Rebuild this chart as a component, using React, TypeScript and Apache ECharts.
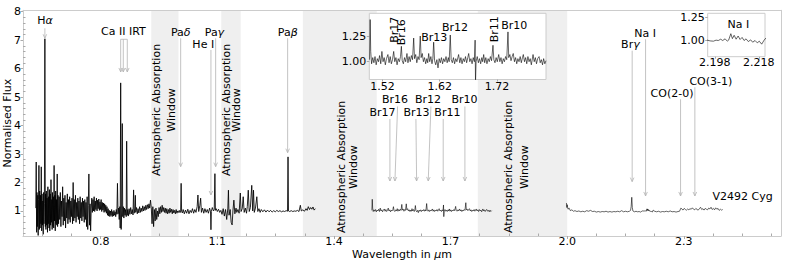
import React, { useEffect, useRef } from "react";
import * as echarts from "echarts";

const FONT = "DejaVu Sans";

// ---------------- data ----------------
// optical + J band segment
const spectrumOptJ: [number, number][] = [
  [0.633,1.10],[0.634,2.72],[0.635,0.25],[0.636,1.65],[0.637,0.45],[0.638,1.55],[0.639,0.14],[0.640,1.40],
  [0.641,2.60],[0.642,0.35],[0.643,1.70],[0.644,0.40],[0.645,1.55],[0.646,0.55],[0.647,2.55],[0.648,0.30],
  [0.649,1.60],[0.650,0.50],[0.651,1.35],[0.652,0.18],[0.653,1.65],[0.654,0.55],[0.655,1.25],[0.6563,7.05],
  [0.6575,0.45],[0.658,1.60],[0.659,0.35],[0.660,1.70],[0.661,0.50],[0.662,1.45],[0.663,0.25],[0.664,1.85],
  [0.665,0.55],[0.666,1.50],[0.667,0.40],[0.668,1.75],[0.669,0.30],[0.670,1.60],[0.671,0.50],[0.672,2.10],
  [0.673,0.60],[0.674,1.40],[0.675,0.35],[0.676,1.65],[0.677,0.45],[0.678,1.50],[0.679,0.40],[0.680,2.60],
  [0.681,0.65],[0.682,1.55],[0.683,0.30],[0.684,1.70],[0.685,0.55],[0.686,1.40],[0.687,0.50],[0.688,2.30],
  [0.689,0.45],[0.690,1.55],
  [0.6915,0.55],[0.693,1.50],[0.6945,0.70],[0.696,1.65],[0.6975,0.45],[0.699,1.35],[0.7005,0.80],[0.702,1.85],
  [0.7035,0.50],[0.705,1.45],[0.7065,0.65],[0.708,1.55],[0.7095,0.40],[0.711,1.30],[0.7125,0.75],[0.714,1.60],
  [0.7155,0.55],[0.717,1.40],[0.7185,0.70],[0.720,1.50],[0.7215,0.60],[0.723,1.35],[0.7245,0.80],[0.726,1.45],
  [0.7275,0.55],[0.729,2.00],[0.7305,0.65],[0.732,1.40],[0.7335,0.75],[0.735,1.55],[0.7365,0.60],[0.738,1.30],
  [0.7395,0.80],[0.741,1.45],[0.7425,0.70],[0.744,1.35],[0.7455,0.55],[0.747,1.50],[0.7485,0.75],[0.750,1.30],
  [0.7515,0.65],[0.753,1.45],[0.7545,0.80],[0.756,1.35],[0.7575,0.60],[0.759,1.40],[0.7605,0.70],[0.762,1.30],
  [0.7635,0.45],[0.765,1.50],[0.7665,0.35],[0.768,1.20],[0.7695,2.30],[0.771,0.50],[0.7725,1.25],[0.774,0.30],
  [0.7755,1.10],
  [0.777,1.45],[0.7785,0.95],[0.780,1.40],[0.7815,1.00],[0.783,1.50],[0.7845,0.98],[0.786,1.35],[0.7875,1.05],
  [0.789,1.45],[0.7905,1.00],[0.792,1.38],[0.7935,1.08],[0.795,1.42],[0.7965,1.02],[0.798,1.32],[0.7995,1.05],
  [0.801,1.40],[0.8025,0.98],[0.804,1.30],[0.8055,1.03],[0.807,1.28],[0.8085,0.95],[0.810,1.25],[0.8115,0.98],
  [0.813,1.20],[0.8145,0.92],[0.816,1.15],
  [0.8175,0.85],[0.819,1.08],[0.8205,0.82],[0.822,1.02],[0.8235,0.80],[0.825,1.00],[0.8265,0.84],[0.828,1.05],
  [0.8295,0.80],[0.831,0.98],[0.8325,0.82],[0.834,1.02],[0.8355,0.85],[0.837,0.97],[0.8385,0.80],[0.840,1.05],
  [0.8415,0.88],[0.843,1.97],[0.8445,0.90],[0.846,1.10],[0.8475,0.70],[0.849,1.15],[0.850,0.40],[0.8513,5.50],
  [0.8525,0.35],[0.854,1.00],[0.8554,4.07],[0.8565,0.80],[0.858,1.15],[0.8595,0.75],[0.861,1.10],[0.8625,0.85],
  [0.864,1.05],[0.8655,0.80],[0.8667,3.45],[0.868,0.85],[0.8695,1.05],[0.871,0.82],
  [0.873,1.08],[0.875,0.88],[0.877,1.12],[0.879,0.90],[0.881,1.05],[0.883,0.86],[0.8845,1.74],[0.886,0.92],
  [0.888,1.10],[0.889,1.55],[0.890,0.95],[0.892,1.12],[0.894,0.90],[0.896,1.08],[0.898,0.93],[0.900,1.15],
  [0.902,0.95],[0.904,1.10],[0.906,0.98],[0.908,1.18],[0.910,1.00],[0.912,1.15],[0.914,1.02],[0.916,1.20],
  [0.918,1.05],[0.920,1.22],[0.922,1.08],[0.924,1.25],[0.926,1.10],[0.928,1.38],[0.930,1.12],
  [0.932,0.55],[0.934,1.15],[0.936,0.45],[0.938,1.05],[0.940,0.65],[0.942,1.10],[0.944,0.70],[0.946,1.00],
  [0.948,0.80],[0.950,1.12],[0.952,0.90],[0.954,1.15],[0.956,0.95],[0.958,1.20],[0.960,0.98],[0.962,1.12],
  [0.964,0.95],[0.966,1.10],[0.968,0.92],[0.970,1.08],[0.972,0.90],[0.974,1.05],[0.976,0.92],[0.978,1.10],
  [0.980,0.95],[0.982,1.06],[0.984,0.90],[0.986,1.05],[0.988,0.93],[0.990,1.02],[0.992,0.90],[0.994,1.05],
  [0.996,0.92],[0.998,1.00],[1.000,0.95],[1.002,1.02],[1.004,0.94],[1.0055,1.00],[1.0068,1.97],[1.008,0.98],
  [1.010,0.93],
  [1.012,1.05],[1.015,0.90],[1.018,1.03],[1.021,0.92],[1.024,1.06],[1.027,0.90],[1.030,1.02],[1.033,0.94],
  [1.036,1.08],[1.039,0.92],[1.042,1.05],[1.045,0.95],[1.048,1.15],[1.050,1.56],[1.052,0.98],[1.055,1.20],
  [1.057,1.45],[1.059,0.95],[1.062,1.10],[1.065,0.92],[1.068,1.08],[1.071,0.95],[1.074,1.05],[1.077,0.92],
  [1.080,1.10],[1.0825,0.97],[1.0835,0.34],[1.0845,0.98],[1.087,1.12],[1.090,1.00],[1.092,1.05],[1.0937,2.31],
  [1.095,1.02],[1.097,1.08],
  [1.100,0.98],[1.103,1.06],[1.106,0.95],[1.109,1.02],[1.112,0.88],[1.115,1.08],[1.118,0.82],[1.121,1.05],
  [1.124,0.70],[1.127,1.10],[1.1285,1.73],[1.130,0.85],[1.133,1.05],[1.1355,0.60],[1.138,0.51],[1.140,1.00],
  [1.1425,1.38],[1.145,0.90],[1.148,1.10],[1.150,0.95],[1.153,1.05],[1.156,0.92],[1.159,1.63],[1.161,0.98],
  [1.164,1.08],[1.1665,1.50],[1.169,0.95],[1.172,1.10],[1.175,0.92],[1.177,1.15],[1.1795,1.73],[1.182,0.98],
  [1.185,1.12],[1.1885,1.90],[1.191,1.00],[1.193,1.73],[1.195,0.95],[1.198,1.10],[1.2015,1.50],[1.204,0.98],
  [1.207,1.08],[1.210,0.95],
  [1.213,1.05],[1.217,0.97],[1.221,1.04],[1.225,0.96],[1.229,1.03],[1.233,0.97],[1.237,1.02],[1.241,0.96],
  [1.245,1.01],[1.249,0.97],[1.253,1.02],[1.257,0.98],[1.261,1.01],[1.265,0.97],[1.269,1.00],[1.273,0.98],
  [1.277,1.01],[1.2805,0.99],[1.2818,2.90],[1.283,1.00],[1.286,0.98],[1.290,1.01],[1.294,0.98],[1.298,1.00],
  [1.302,0.99],[1.306,1.02],[1.310,0.98],[1.3135,1.20],[1.316,1.00],[1.320,1.04],[1.324,0.99],[1.328,1.08],
  [1.331,1.02],[1.334,1.15],[1.337,1.05],[1.340,1.12],[1.343,1.06],[1.346,1.14],[1.349,1.03],[1.352,1.08],
];

// H band segment (also shown in the first inset)
const spectrumH: [number, number][] = [
  [1.4975,1.02],[1.4985,1.41],[1.4995,1.10],[1.501,0.98],[1.503,1.04],[1.505,0.99],[1.507,1.05],[1.509,0.97],
  [1.511,1.03],[1.513,1.00],[1.515,1.06],[1.517,0.98],[1.519,1.10],[1.521,1.00],[1.523,1.04],[1.525,0.97],
  [1.527,1.03],[1.5295,1.07],[1.5315,0.99],[1.5335,1.05],[1.5355,0.98],[1.5375,1.02],[1.5396,1.10],[1.5415,1.00],
  [1.5435,1.04],[1.5455,0.97],[1.5475,1.03],[1.5495,1.00],[1.5515,1.05],[1.553,1.15],[1.5545,1.01],[1.5565,0.98],
  [1.5585,1.04],[1.5605,1.00],[1.5628,1.08],[1.5645,0.99],[1.5665,1.05],[1.5685,1.00],[1.5705,1.06],[1.5725,1.02],
  [1.5745,1.23],[1.576,1.03],[1.578,1.07],[1.580,0.99],[1.582,1.05],[1.584,1.02],[1.586,1.25],[1.5875,1.04],
  [1.5895,1.08],[1.5915,1.00],[1.5935,1.04],[1.5955,0.98],[1.5975,1.03],[1.599,0.99],[1.6007,1.08],[1.6025,1.00],
  [1.6045,1.05],[1.6065,0.98],[1.608,1.03],[1.6094,1.19],[1.611,1.01],[1.613,0.97],[1.615,1.02],[1.617,0.94],
  [1.619,1.03],[1.621,0.99],[1.623,1.04],[1.625,0.98],[1.627,1.03],[1.629,1.00],[1.631,1.05],[1.633,0.99],
  [1.635,1.04],[1.6365,1.00],[1.6384,1.26],[1.640,1.02],[1.642,0.99],[1.644,1.04],[1.646,0.98],[1.648,1.03],
  [1.650,1.00],[1.653,1.07],[1.655,0.99],[1.657,1.04],[1.659,0.98],[1.661,1.03],[1.663,1.00],[1.665,1.05],
  [1.667,0.99],[1.669,1.04],[1.6706,1.08],[1.6725,1.00],[1.6745,1.03],[1.6765,0.98],[1.6785,1.04],[1.6805,1.00],
  [1.6818,1.21],[1.6825,0.80],[1.6835,1.00],[1.6855,1.05],[1.6875,0.99],[1.6895,1.03],[1.6915,0.98],[1.6935,1.04],
  [1.695,1.00],[1.6968,1.07],[1.6985,0.99],[1.7005,1.04],[1.7025,0.98],[1.7045,1.03],[1.7065,1.00],[1.7085,1.05],
  [1.7105,1.01],[1.713,1.16],[1.7145,1.02],[1.7165,0.99],[1.7185,1.04],[1.7205,1.00],[1.723,1.07],[1.725,1.00],
  [1.727,1.04],[1.729,0.98],[1.731,1.03],[1.733,1.00],[1.735,1.05],[1.737,1.02],[1.7392,1.29],[1.7405,1.04],
  [1.7425,1.07],[1.7445,1.01],[1.7465,1.05],[1.7484,1.08],[1.7505,1.00],[1.7525,1.04],[1.7545,0.98],[1.7565,1.03],
  [1.7585,1.00],[1.7605,1.05],[1.7625,0.99],[1.7645,1.04],[1.766,1.07],[1.768,1.00],[1.770,1.04],[1.772,0.98],
  [1.774,1.05],[1.776,1.00],[1.778,1.03],[1.780,0.97],[1.783,1.07],[1.785,1.00],[1.787,1.04],[1.789,0.98],
  [1.791,1.03],[1.7935,1.05],[1.7955,0.99],[1.7975,1.02],[1.7995,0.97],[1.8015,1.03],[1.8035,0.98],[1.8056,1.01],
];

// K band segment (also shown in the second inset)
const spectrumK: [number, number][] = [
  [1.998,1.28],[1.999,1.12],[2.000,1.22],[2.002,1.06],[2.005,1.10],[2.008,1.01],[2.012,1.04],[2.016,0.99],
  [2.020,1.01],[2.025,0.98],[2.030,1.00],[2.035,0.97],[2.040,0.99],[2.045,0.97],[2.050,1.01],[2.055,0.99],
  [2.060,1.02],[2.065,0.98],[2.070,0.99],[2.075,0.96],[2.080,0.98],[2.085,0.96],[2.090,0.98],[2.095,0.97],
  [2.100,0.99],[2.105,0.96],[2.110,0.98],[2.115,0.96],[2.120,0.98],[2.125,0.97],[2.130,0.99],[2.135,0.97],
  [2.140,1.01],[2.145,0.97],[2.150,0.99],[2.155,0.97],[2.160,0.99],[2.163,1.02],[2.1645,1.15],[2.1661,1.48],
  [2.1675,1.12],[2.169,1.00],[2.173,0.97],[2.177,0.99],[2.181,0.97],[2.185,0.98],[2.189,0.96],[2.192,0.99],
  [2.1946,1.006],[2.1959,0.998],[2.1974,0.995],[2.1986,1.006],[2.1996,1.002],[2.2007,1.016],[2.2016,1.002],[2.2027,1.020],
  [2.2037,0.995],[2.2043,1.006],[2.2053,1.075],[2.2060,1.022],[2.2068,1.058],[2.2077,1.016],[2.2086,1.050],[2.2095,1.013],
  [2.2104,1.035],[2.2113,1.002],[2.2122,1.020],[2.2132,0.991],[2.2143,1.009],[2.2152,0.984],[2.2163,1.002],[2.2173,0.977],
  [2.2182,0.995],[2.2193,0.963],[2.2204,1.006],[2.2213,1.030],
  [2.225,0.99],[2.230,0.97],[2.235,0.99],[2.240,0.96],[2.245,0.98],[2.250,0.97],[2.255,0.99],[2.260,0.97],
  [2.265,1.00],[2.270,0.97],[2.275,0.98],[2.280,0.96],[2.285,0.98],[2.289,0.99],[2.2925,1.10],[2.295,1.07],
  [2.298,1.03],[2.301,1.09],[2.304,1.05],[2.307,1.03],[2.310,1.07],[2.313,1.04],[2.316,1.08],[2.319,1.06],
  [2.322,1.11],[2.325,1.06],[2.328,1.04],[2.331,1.09],[2.334,1.05],[2.337,1.03],[2.340,1.08],[2.343,1.13],
  [2.346,1.05],[2.349,1.08],[2.352,1.03],[2.355,1.09],[2.358,1.06],[2.361,1.04],[2.364,1.10],[2.367,1.07],
  [2.370,1.13],[2.373,1.05],[2.376,1.09],[2.379,1.04],[2.382,1.11],[2.385,1.06],[2.388,1.09],[2.391,1.02],
  [2.394,1.06],[2.397,1.03],[2.400,1.05],
];

// atmospheric absorption windows (µm)
const bandStart = [0.93, 1.11, 1.32, 1.77];
const bandEnd = [1.0, 1.16, 1.51, 2.0];
const bandTextLine1 = "Atmospheric Absorption";
const bandTextLine2 = "Window";

// ticks
const xMajorTicks = [0.8, 1.1, 1.4, 1.7, 2.0, 2.3];
const xMinorTicks = [0.65, 0.725, 0.875, 0.95, 1.025, 1.175, 1.25, 1.325, 1.475, 1.55, 1.625, 1.775, 1.85, 1.925, 2.075, 2.15, 2.225, 2.375, 2.45, 2.525];
const yMajorTicks = [1, 2, 3, 4, 5, 6, 7, 8];
const yMinorTicks = [0.2, 0.4, 0.6, 0.8, 1.2, 1.4, 1.6, 1.8, 2.2, 2.4, 2.6, 2.8, 3.2, 3.4, 3.6, 3.8, 4.2, 4.4, 4.6, 4.8, 5.2, 5.4, 5.6, 5.8, 6.2, 6.4, 6.6, 6.8, 7.2, 7.4, 7.6, 7.8];
const inset1XTicks = [1.52, 1.62, 1.72];
const inset1YTicks = [1.0, 1.25];
const inset2XTicks = [2.198, 2.218];
const inset2YTicks = [1.0, 1.25];

// line identifications
const lineLabels = ["H{i|α}", "Ca II IRT", "Pa{i|δ}", "Pa{i|γ}", "He I", "Pa{i|β}", "Br17", "Br16", "Br13", "Br12", "Br11", "Br10", "Br{i|γ}", "Na I", "CO(2-0)", "CO(3-1)", "V2492 Cyg"];
const insetHLabels = ["Br17", "Br16", "Br13", "Br12", "Br11", "Br10"];
const insetKLabels = ["Na I"];

// ---------------- layout (label anchor, arrows in data coords) ----------------
type Ann = { label: number; at: [number, number]; arrows: number[][]; bracket?: number[] };
const annotationLayout: Ann[] = [
  { label: 0, at: [0.6566, 7.709], arrows: [[0.6563, 7.418, 0.6563, 7.067]] },
  { label: 1, at: [0.8585, 7.288], arrows: [[0.8513, 7.031, 0.8513, 5.883], [0.858, 7.031, 0.858, 5.883], [0.8683, 7.031, 0.8683, 5.883]], bracket: [0.8513, 0.8683, 7.031] },
  { label: 2, at: [1.0059, 7.277], arrows: [[1.0056, 7.067, 1.0056, 2.557]] },
  { label: 3, at: [1.0925, 7.277], arrows: [[1.0956, 7.067, 1.0956, 2.557]] },
  { label: 4, at: [1.0637, 6.856], arrows: [[1.0835, 6.656, 1.0835, 1.563]] },
  { label: 5, at: [1.281, 7.277], arrows: [[1.2808, 7.067, 1.2808, 3.048]] },
  { label: 6, at: [1.5246, 4.453], arrows: [[1.5439, 4.232, 1.5439, 2.054]] },
  { label: 7, at: [1.5568, 4.899], arrows: [[1.5637, 4.671, 1.5568, 2.054]] },
  { label: 8, at: [1.6121, 4.453], arrows: [[1.6108, 4.232, 1.6126, 2.054]] },
  { label: 9, at: [1.6417, 4.899], arrows: [[1.6494, 4.671, 1.6425, 2.054]] },
  { label: 10, at: [1.6918, 4.453], arrows: [[1.681, 4.232, 1.681, 2.054]] },
  { label: 11, at: [1.7356, 4.899], arrows: [[1.7368, 4.671, 1.7368, 2.054]] },
  { label: 12, at: [2.1625, 6.831], arrows: [[2.1671, 6.631, 2.1671, 2.03]] },
  { label: 13, at: [2.2006, 7.242], arrows: [[2.2016, 7.031, 2.2016, 1.527]] },
  { label: 14, at: [2.2697, 5.135], arrows: [[2.2916, 4.924, 2.2916, 1.527]] },
  { label: 15, at: [2.3696, 5.542], arrows: [[2.3284, 5.345, 2.3284, 1.527]] },
  { label: 16, at: [2.4511, 1.503], arrows: [] },
];
// band text block centres [x, y, line spacing px]
const bandLabelLayout = [
  [0.9627, 4.548, 14.7],
  [1.1358, 4.548, 9.5],
  [1.4359, 2.546, 12],
  [1.8698, 2.546, 16],
];
// inset label anchors [x, y, rotated(1/0)]
const insetHLayout = [
  [1.5406, 1.311, 1],
  [1.5535, 1.287, 1],
  [1.6104, 1.238, 0],
  [1.6468, 1.330, 0],
  [1.715, 1.315, 1],
  [1.7503, 1.349, 0],
];
const insetKLayout = [[2.2087, 1.178, 0]];

export default function App() {
  const ref = useRef<HTMLDivElement>(null);
  useEffect(() => {
    document.body.style.margin = "0";
    const chart = echarts.init(ref.current!, undefined, { renderer: "svg", width: 789, height: 263 });
    const axisGrey = "#cccccc";
    const tickGrey = "#aaaaaa";
    const arrowGrey = "#b4b4b4";
    const txt = "#000000";
    const rich = { i: { fontStyle: "italic", fontSize: 11, fontFamily: FONT, color: txt, lineHeight: 9 } };
    const labelStyle = { fontSize: 11, fontFamily: FONT, color: txt, lineHeight: 9 };

    const textEl = (x: number, y: number, text: string, rotate = false) => ({
      type: "text",
      x,
      y,
      rotation: rotate ? Math.PI / 2 : 0,
      style: {
        text,
        rich: { i: { fontStyle: "italic", fontSize: 11, fontFamily: FONT, fill: txt } },
        fontSize: 11,
        fontFamily: FONT,
        fill: txt,
        align: "center",
        verticalAlign: "middle",
      },
    });

    const renderAnnotation = (params: any, api: any) => {
      const a = annotationLayout[params.dataIndex];
      const children: any[] = [];
      const stroke = { stroke: arrowGrey, lineWidth: 0.8, fill: "none" };
      for (const ar of a.arrows) {
        const p0 = api.coord([ar[0], ar[1]]);
        const p1 = api.coord([ar[2], ar[3]]);
        children.push({ type: "line", shape: { x1: p0[0], y1: p0[1], x2: p1[0], y2: p1[1] }, style: stroke });
        const dx = p1[0] - p0[0];
        const dy = p1[1] - p0[1];
        const L = Math.hypot(dx, dy) || 1;
        const ux = dx / L;
        const uy = dy / L;
        const hl = 4;
        const hw = 1.8;
        children.push({
          type: "polyline",
          shape: {
            points: [
              [p1[0] - ux * hl - uy * hw, p1[1] - uy * hl + ux * hw],
              [p1[0], p1[1]],
              [p1[0] - ux * hl + uy * hw, p1[1] - uy * hl - ux * hw],
            ],
          },
          style: stroke,
        });
      }
      if (a.bracket) {
        const b0 = api.coord([a.bracket[0], a.bracket[2]]);
        const b1 = api.coord([a.bracket[1], a.bracket[2]]);
        children.push({ type: "line", shape: { x1: b0[0], y1: b0[1], x2: b1[0], y2: b1[1] }, style: stroke });
      }
      const lp = api.coord([a.at[0], a.at[1]]);
      children.push(textEl(lp[0], lp[1], lineLabels[a.label]));
      return { type: "group", children };
    };

    const renderBandText = (params: any, api: any) => {
      const p = api.coord([api.value(0), api.value(1)]);
      const sp = api.value(2);
      return {
        type: "group",
        children: [textEl(p[0] - sp / 2, p[1], bandTextLine1, true), textEl(p[0] + sp / 2, p[1], bandTextLine2, true)],
      };
    };

    const makeInsetRender = (layout: number[][], labels: string[]) => (params: any, api: any) => {
      const l = layout[params.dataIndex];
      const p = api.coord([l[0], l[1]]);
      return textEl(p[0], p[1], labels[params.dataIndex], l[2] === 1);
    };

    const hidden = { axisLine: { show: false }, axisTick: { show: false }, axisLabel: { show: false }, splitLine: { show: false } };

    const option: any = {
      animation: false,
      backgroundColor: "#ffffff",
      textStyle: { fontFamily: FONT },
      grid: [
        { left: 23, top: 10.3, width: 758, height: 225.7, show: false, outerBoundsMode: "none", containLabel: false },
        { left: 369.3, top: 13.3, width: 176.7, height: 66.2, show: true, backgroundColor: "#ffffff", borderColor: axisGrey, borderWidth: 1, z: 10, outerBoundsMode: "none", containLabel: false },
        { left: 707.7, top: 13.3, width: 57.3, height: 43.4, show: true, backgroundColor: "#ffffff", borderColor: axisGrey, borderWidth: 1, z: 10, outerBoundsMode: "none", containLabel: false },
      ],
      xAxis: [
        {
          gridIndex: 0, type: "value", min: 0.6, max: 2.55, position: "bottom", z: 5,
          axisLine: { show: true, lineStyle: { color: axisGrey, width: 1 } },
          axisTick: { show: true, inside: false, length: 3, customValues: xMajorTicks, lineStyle: { color: tickGrey } },
          axisLabel: { show: true, customValues: xMajorTicks, formatter: (v: number) => v.toFixed(1), margin: 1.2, ...labelStyle },
          splitLine: { show: false },
          name: "Wavelength in {i|µ}m", nameLocation: "middle", nameGap: 14, nameMoveOverlap: false,
          nameTextStyle: { ...labelStyle, rich },
        },
        {
          gridIndex: 0, type: "value", min: 0.6, max: 2.55, position: "bottom", z: 5, ...hidden,
          axisTick: { show: true, inside: true, length: 2.5, customValues: xMinorTicks, lineStyle: { color: tickGrey } },
        },
        {
          gridIndex: 0, type: "value", min: 0.6, max: 2.55, position: "top", z: 5, ...hidden,
          axisLine: { show: true, lineStyle: { color: axisGrey, width: 1 } },
        },
        {
          gridIndex: 1, type: "value", min: 1.497, max: 1.8056, position: "bottom", z: 11,
          axisLine: { show: false },
          axisTick: { show: true, length: 2, customValues: inset1XTicks, lineStyle: { color: tickGrey } },
          axisLabel: { show: true, customValues: inset1XTicks, formatter: (v: number) => v.toFixed(2), margin: 2.2, ...labelStyle },
          splitLine: { show: false },
        },
        {
          gridIndex: 2, type: "value", min: 2.1948, max: 2.2208, position: "bottom", z: 11,
          axisLine: { show: false },
          axisTick: { show: true, length: 2, customValues: inset2XTicks, lineStyle: { color: tickGrey } },
          axisLabel: { show: true, customValues: inset2XTicks, formatter: (v: number) => v.toFixed(3), margin: 1.7, ...labelStyle },
          splitLine: { show: false },
        },
      ],
      yAxis: [
        {
          gridIndex: 0, type: "value", min: 0.12, max: 8.05, position: "left", z: 5,
          axisLine: { show: true, lineStyle: { color: axisGrey, width: 1 } },
          axisTick: { show: true, inside: false, length: 2.5, customValues: yMajorTicks, lineStyle: { color: tickGrey } },
          axisLabel: { show: true, customValues: yMajorTicks, formatter: (v: number) => String(v), margin: 2, ...labelStyle },
          splitLine: { show: false },
          name: "Normalised Flux", nameLocation: "middle", nameGap: 11.5, nameRotate: 90, nameMoveOverlap: false,
          nameTextStyle: { ...labelStyle },
        },
        {
          gridIndex: 0, type: "value", min: 0.12, max: 8.05, position: "left", z: 5, ...hidden,
          axisTick: { show: true, inside: true, length: 2.5, customValues: yMinorTicks, lineStyle: { color: tickGrey } },
        },
        {
          gridIndex: 0, type: "value", min: 0.12, max: 8.05, position: "right", z: 5, ...hidden,
          axisLine: { show: true, lineStyle: { color: axisGrey, width: 1 } },
        },
        {
          gridIndex: 1, type: "value", min: 0.827, max: 1.471, position: "left", z: 11,
          axisLine: { show: false },
          axisTick: { show: true, length: 2.5, customValues: inset1YTicks, lineStyle: { color: tickGrey } },
          axisLabel: { show: true, customValues: inset1YTicks, formatter: (v: number) => v.toFixed(2), margin: 3, ...labelStyle },
          splitLine: { show: false },
        },
        {
          gridIndex: 2, type: "value", min: 0.829, max: 1.293, position: "left", z: 11,
          axisLine: { show: false },
          axisTick: { show: true, length: 2.5, customValues: inset2YTicks, lineStyle: { color: tickGrey } },
          axisLabel: { show: true, customValues: inset2YTicks, formatter: (v: number) => v.toFixed(2), margin: 3, ...labelStyle },
          splitLine: { show: false },
        },
      ],
      series: [
        {
          type: "line", xAxisIndex: 0, yAxisIndex: 0, data: spectrumOptJ, showSymbol: false, symbol: "none",
          lineStyle: { color: "#000000", width: 0.85 }, z: 3, silent: true, clip: true,
          markArea: {
            silent: true,
            itemStyle: { color: "#efefef", opacity: 1 },
            label: { show: false },
            data: bandStart.map((s, i) => [{ xAxis: s }, { xAxis: bandEnd[i] }]),
          },
        },
        {
          type: "line", xAxisIndex: 0, yAxisIndex: 0, data: spectrumH, showSymbol: false, symbol: "none",
          lineStyle: { color: "#000000", width: 0.6 }, z: 3, silent: true, clip: true,
        },
        {
          type: "line", xAxisIndex: 0, yAxisIndex: 0, data: spectrumK, showSymbol: false, symbol: "none",
          lineStyle: { color: "#000000", width: 0.6 }, z: 3, silent: true, clip: true,
        },
        {
          type: "custom", xAxisIndex: 0, yAxisIndex: 0, z: 4, silent: true,
          data: bandLabelLayout, renderItem: renderBandText,
        },
        {
          type: "custom", xAxisIndex: 0, yAxisIndex: 0, z: 4, silent: true,
          data: annotationLayout.map((a) => a.at), renderItem: renderAnnotation,
        },
        {
          type: "line", xAxisIndex: 3, yAxisIndex: 3, data: spectrumH, showSymbol: false, symbol: "none",
          lineStyle: { color: "#000000", width: 0.6 }, z: 12, silent: true, clip: true,
        },
        {
          type: "line", xAxisIndex: 4, yAxisIndex: 4, data: spectrumK, showSymbol: false, symbol: "none",
          lineStyle: { color: "#000000", width: 0.6 }, z: 12, silent: true, clip: true,
        },
        {
          type: "custom", xAxisIndex: 3, yAxisIndex: 3, z: 13, silent: true,
          data: insetHLayout, renderItem: makeInsetRender(insetHLayout, insetHLabels),
        },
        {
          type: "custom", xAxisIndex: 4, yAxisIndex: 4, z: 13, silent: true,
          data: insetKLayout, renderItem: makeInsetRender(insetKLayout, insetKLabels),
        },
      ],
    };
    chart.setOption(option);
    return () => chart.dispose();
  }, []);
  return <div ref={ref} style={{ position: "absolute", left: 0, top: 0, width: 789, height: 263 }} />;
}
